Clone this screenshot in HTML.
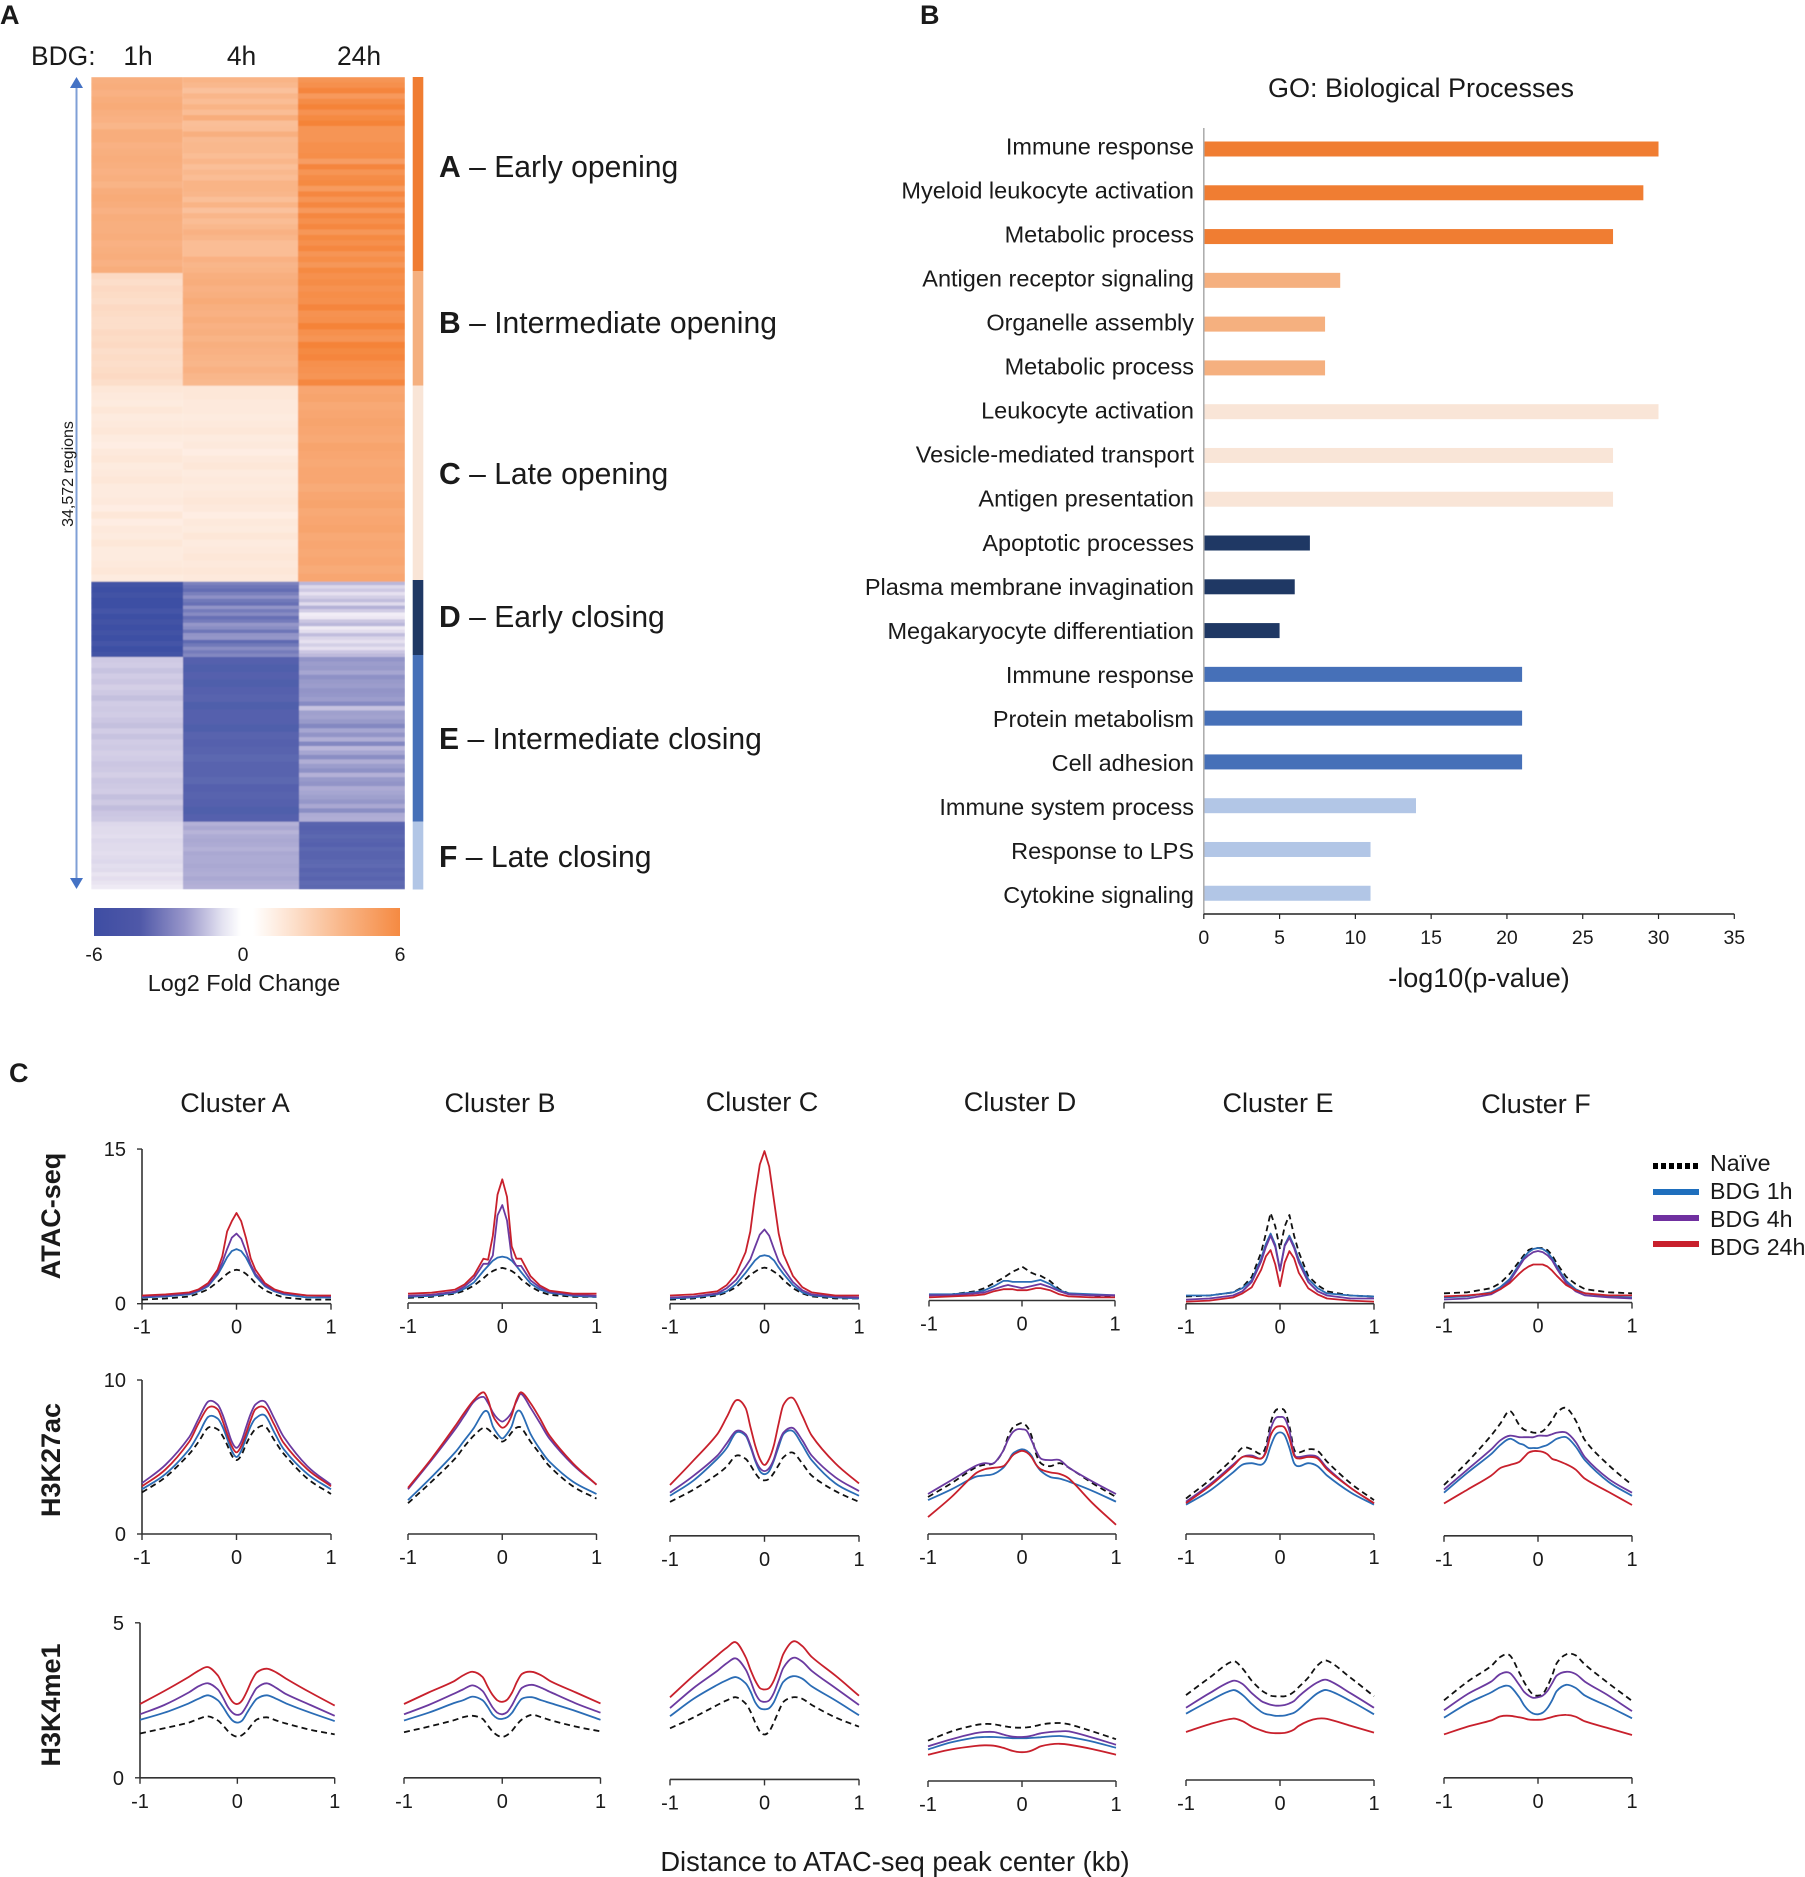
<!DOCTYPE html>
<html lang="en">
<head>
<meta charset="utf-8">
<title>ATAC-seq clusters figure</title>
<style>
html,body{margin:0;padding:0;background:#fff;width:1805px;height:1877px;overflow:hidden}
svg{display:block}
text{font-family:"Liberation Sans",Arial,sans-serif;fill:#1a1a1a}
</style>
</head>
<body>
<svg id="fig" xmlns="http://www.w3.org/2000/svg" width="1805" height="1877" viewBox="0 0 1805 1877">
<defs>
<linearGradient id="cbGrad" x1="0" x2="1" y1="0" y2="0">
<stop offset="0" stop-color="#3e4da3"/><stop offset=".15" stop-color="#4f58a8"/><stop offset=".3" stop-color="#9a98cb"/><stop offset=".42" stop-color="#e4e3f1"/><stop offset=".48" stop-color="#fff"/><stop offset=".52" stop-color="#fff"/><stop offset=".65" stop-color="#fde0cc"/><stop offset=".8" stop-color="#f9b98d"/><stop offset="1" stop-color="#f58a42"/>
</linearGradient>
<filter id="soft" x="0" y="0" width="100%" height="100%"><feGaussianBlur stdDeviation="0.6"/></filter>
</defs>
<rect width="1805" height="1877" fill="#fff"/>

<text x="0" y="24" font-size="27" font-weight="bold">A</text>
<text x="920" y="24" font-size="27" font-weight="bold">B</text>
<text x="9" y="1082" font-size="27" font-weight="bold">C</text>

<text x="31" y="65" font-size="26.4">BDG:</text>
<text x="138" y="65" font-size="26.4" text-anchor="middle">1h</text>
<text x="241.5" y="65" font-size="26.4" text-anchor="middle">4h</text>
<text x="359" y="65" font-size="26.4" text-anchor="middle">24h</text>

<g id="heatmap" filter="url(#soft)"></g>
<g id="sidebar"></g>

<line x1="76.5" y1="84" x2="76.5" y2="883" stroke="#7f9fd6" stroke-width="2"/>
<polygon points="76.5,77 70,88 83,88" fill="#4472c4"/>
<polygon points="76.5,889 70,878 83,878" fill="#4472c4"/>
<text transform="translate(73 474) rotate(-90)" font-size="16" text-anchor="middle">34,572 regions</text>

<g font-size="30.1">
<text x="439" y="177"><tspan font-weight="bold">A</tspan> – Early opening</text>
<text x="439" y="333"><tspan font-weight="bold">B</tspan> – Intermediate opening</text>
<text x="439" y="484"><tspan font-weight="bold">C</tspan> – Late opening</text>
<text x="439" y="627"><tspan font-weight="bold">D</tspan> – Early closing</text>
<text x="439" y="749"><tspan font-weight="bold">E</tspan> – Intermediate closing</text>
<text x="439" y="867"><tspan font-weight="bold">F</tspan> – Late closing</text>
</g>

<rect x="94" y="908" width="306" height="28" fill="url(#cbGrad)"/>
<text x="94" y="961" font-size="19.5" text-anchor="middle">-6</text>
<text x="243" y="961" font-size="19.5" text-anchor="middle">0</text>
<text x="400" y="961" font-size="19.5" text-anchor="middle">6</text>
<text x="244" y="991" font-size="23.4" text-anchor="middle">Log2 Fold Change</text>

<text x="1421" y="97" font-size="27" text-anchor="middle">GO: Biological Processes</text>
<g id="bars"></g>
<text x="1479" y="987" font-size="27" text-anchor="middle">-log10(p-value)</text>

<g font-size="27" text-anchor="middle">
<text x="235" y="1112">Cluster A</text>
<text x="500" y="1112">Cluster B</text>
<text x="762" y="1111">Cluster C</text>
<text x="1020" y="1111">Cluster D</text>
<text x="1278" y="1112">Cluster E</text>
<text x="1536" y="1113">Cluster F</text>
</g>
<text transform="translate(60 1216) rotate(-90)" font-size="27" font-weight="bold" text-anchor="middle">ATAC-seq</text>
<text transform="translate(60 1460) rotate(-90)" font-size="27" font-weight="bold" text-anchor="middle">H3K27ac</text>
<text transform="translate(60 1705) rotate(-90)" font-size="27" font-weight="bold" text-anchor="middle">H3K4me1</text>

<g id="profiles"></g>

<g font-size="23.2">
<line x1="1653" y1="1166" x2="1699" y2="1166" stroke="#000" stroke-width="6" stroke-dasharray="5 3"/>
<text x="1710" y="1171">Naïve</text>
<line x1="1653" y1="1192" x2="1699" y2="1192" stroke="#1f6fbd" stroke-width="6"/>
<text x="1710" y="1199">BDG 1h</text>
<line x1="1653" y1="1218" x2="1699" y2="1218" stroke="#7030a0" stroke-width="6"/>
<text x="1710" y="1227">BDG 4h</text>
<line x1="1653" y1="1244" x2="1699" y2="1244" stroke="#c8202c" stroke-width="6"/>
<text x="1710" y="1255">BDG 24h</text>
</g>

<text x="895" y="1871" font-size="27.3" text-anchor="middle">Distance to ATAC-seq peak center (kb)</text>
</svg>

<script>
/* ---------- Heatmap data: log2 fold change per stripe ---------- */
const hmA_1h=[3.6,3.7,3.5,3.7,3.8,3.6,3.5,3.3,3.7,3.7,3.5,3.6,3.7,3.6,3.5,3.6,3.4,3.7,3.8,3.7,3.5,3.7,3.6,3.6,3.7,3.5,3.6,3.7,3.5,3.7];
const hmA_4h=[3.4,3.2,2.8,3.3,3.0,3.4,3.0,3.7,2.9,3.0,3.6,3.1,3.2,3.2,3.0,3.3,2.9,3.2,3.0,3.4,3.4,3.3,2.9,3.4,2.8,3.3,3.0,3.2,3.5,3.3,3.0,3.0,3.0,3.5,3.3,3.4];
const hmA_24h=[4.8,5.0,5.5,4.6,5.2,5.6,4.9,5.3,5.6,4.8,4.8,4.8,5.0,5.0,5.1,4.4,5.5,4.8,5.2,5.3,4.5,5.4,4.8,5.4,4.6,5.4,5.0,5.4,4.7,5.3,5.0,5.4,4.8,5.1,4.7,5.3];
const hmB_1h=[1.7,1.5,1.7,1.6,1.5,1.7,1.6,1.5,1.5,1.7,1.6,1.7,1.5,1.6,1.5,1.6,1.7,1.5];
const hmB_4h=[3.6,3.7,3.5,3.6,3.8,3.6,3.5,3.7,3.5,3.6,3.4,3.6,3.5,3.4,3.3,3.5,3.3,3.2];
const hmB_24h=[5.0,5.2,4.9,5.1,5.0,5.5,4.9,5.0,5.6,5.0,4.8,5.6,5.3,5.5,5.0,4.9,4.8,5.4];
const hmC_1h=[1.1,1.0,.9,1.1,.9,1.0,1.1,.9,.8,1.0,1.1,.9,1.0,1.1,.9,.9,1.0,.8,1.1,.8,1.0,.9,1.1,.9,.9,1.0,1.1,.9];
const hmC_4h=[1.1,1.1,1.0,1.0,.9,1.0,1.1,.9,1.0,.8,1.0,1.1,.9,1.0,.9,1.0,1.1,1.0,.8,1.0,.9,1.1,.9,1.0,1.1,1.0,1.1,1.0];
const hmC_24h=[4.0,4.1,3.9,4.0,4.1,4.0,3.9,4.1,4.0,3.9,4.0,4.0,3.8,4.0,4.1,3.9,4.0,4.1,3.9,4.0,3.9,4.0,3.8,4.0];
const hmD_1h=[5.8,5.9,5.8,5.9,5.9,5.7,5.9,5.8,5.9,5.8,5.9,5.7,5.9,5.8];
const hmD_4h=[4.2,4.6,4.9,4.3,3.7,4.5,4.8,3.6,4.4,3.9,4.8,4.4,3.5,3.8,4.6,3.6,3.5,5.0,4.5,3.8,4.4,4.0];
const hmD_24h=[2.4,1.3,1.8,1.0,1.6,2.2,1.2,2.6,1.7,.6,.8,1.9,2.4,.7,1.1,2.2,1.4,1.0,1.6,1.0,1.9,2.3];
const hmE_1h=[1.8,1.7,2.0,1.7,1.9,1.6,1.8,2.1,1.7,1.8,1.7,1.9,2.1,1.7,2.0,1.7,1.8,1.6,1.7,1.9,1.8,1.6,1.9,1.8,1.7,2.1,1.8,2.2,1.9,1.8];
const hmE_4h=[5.3,5.4,5.3,5.4,5.3,5.2,5.4,5.3,5.3,5.4,5.2,5.3,5.2,5.1,5.2,5.2,5.1,5.3,5.2,5.3,5.4,5.3];
const hmE_24h=[3.6,3.3,3.4,3.0,3.7,3.4,3.3,3.6,3.5,3.3,3.9,2.0,3.2,3.1,3.4,4.0,3.0,3.6,2.7,4.0,2.4,3.0,3.8,2.7,3.3,3.7,2.6,3.4,3.6,2.8,3.0,3.2,3.5,2.9,3.8,2.8,2.7];
const hmF_1h=[1.3,1.2,1.2,1.1,1.3,1.2,1.2,1.1,1.2,1.3,1.1,1.2,.9,1.1,.9,.7];
const hmF_4h=[2.6,2.9,2.5,2.8,2.9,2.8,2.6,2.9,2.8,2.8,2.9,2.8,2.7,2.9,2.7,2.6];
const hmF_24h=[5.2,5.3,5.2,5.1,5.2,5.3,5.1,5.2,5.2,5.1,5.0,5.2,5.1,5.2,5.0,5.1];
const hmSigns=[1,1,1,-1,-1,-1];
const hmClusterRows=[[hmA_1h,hmA_4h,hmA_24h],[hmB_1h,hmB_4h,hmB_24h],[hmC_1h,hmC_4h,hmC_24h],[hmD_1h,hmD_4h,hmD_24h],[hmE_1h,hmE_4h,hmE_24h],[hmF_1h,hmF_4h,hmF_24h]];

/* ---------- Bar chart data ---------- */
const goTerms=["Immune response","Myeloid leukocyte activation","Metabolic process","Antigen receptor signaling","Organelle assembly","Metabolic process","Leukocyte activation","Vesicle-mediated transport","Antigen presentation","Apoptotic processes","Plasma membrane invagination","Megakaryocyte differentiation","Immune response","Protein metabolism","Cell adhesion","Immune system process","Response to LPS","Cytokine signaling"];
const goValues=[30,29,27,9,8,8,30,27,27,7,6,5,21,21,21,14,11,11];
const goClusters=["A","A","A","B","B","B","C","C","C","D","D","D","E","E","E","F","F","F"];
const goTicks=[0,5,10,15,20,25,30,35];

/* ---------- Profile data: sampled at these distances (kb) ---------- */
const distKb=[-1,-.75,-.5,-.4,-.3,-.2,-.15,-.1,-.05,0,.05,.1,.15,.2,.3,.4,.5,.75,1];
const xTicks=[-1,0,1];

const atacA_naive=[.4,.5,.7,1.0,1.4,2.1,2.5,2.9,3.2,3.3,3.2,2.9,2.5,2.0,1.3,.9,.6,.4,.4];
const atacA_1h=[.6,.7,.9,1.2,1.7,2.8,3.6,4.5,5.1,5.3,5.1,4.5,3.6,2.7,1.7,1.2,.9,.6,.6];
const atacA_4h=[.7,.8,1.0,1.3,1.8,3.0,4.0,5.3,6.4,6.8,6.3,5.1,3.8,2.9,1.8,1.3,1.0,.8,.7];
const atacA_24h=[.8,.9,1.1,1.4,2.0,3.3,4.6,7.0,8.0,8.8,8.0,6.4,4.4,3.3,2.0,1.4,1.1,.8,.8];
const atacB_naive=[.5,.6,.9,1.2,1.7,2.4,2.8,3.1,3.3,3.4,3.3,3.1,2.8,2.3,1.6,1.1,.8,.6,.6];
const atacB_1h=[.6,.7,1.0,1.4,2.0,3.1,3.6,4.1,4.4,4.5,4.4,4.1,3.6,3.0,1.9,1.3,1.0,.7,.6];
const atacB_4h=[.7,.8,1.1,1.6,2.4,3.8,3.8,4.6,8.5,9.5,8.0,4.4,3.6,3.6,2.2,1.5,1.1,.8,.7];
const atacB_24h=[.9,1.0,1.3,1.8,2.7,4.3,4.2,6.5,10.5,12,10.3,5.5,4.3,4.3,2.6,1.7,1.2,.9,.9];
const atacC_naive=[.4,.5,.8,1.1,1.6,2.4,2.8,3.1,3.4,3.5,3.4,3.1,2.8,2.3,1.5,1.0,.7,.5,.5];
const atacC_1h=[.5,.6,.9,1.2,1.9,3.0,3.6,4.2,4.6,4.7,4.6,4.2,3.5,2.9,1.8,1.1,.8,.6,.5];
const atacC_4h=[.6,.7,1.0,1.5,2.3,3.6,4.3,5.5,6.7,7.2,6.6,5.3,4.1,3.4,2.1,1.3,.9,.7,.6];
const atacC_24h=[.8,.9,1.2,1.8,2.9,5.0,7.0,10.5,13.5,14.8,13.3,10,6.8,4.8,2.7,1.6,1.1,.8,.8];
const atacD_naive=[.5,.6,.9,1.2,1.7,2.2,2.5,2.8,3.0,3.3,3.0,2.7,2.5,2.4,1.9,1.1,.7,.5,.4];
const atacD_1h=[.6,.6,.8,1.0,1.4,1.9,1.9,1.8,1.8,1.8,1.8,1.8,1.9,2.0,1.6,1.0,.7,.6,.5];
const atacD_4h=[.5,.5,.7,.8,1.1,1.4,1.5,1.4,1.3,1.2,1.3,1.4,1.5,1.6,1.3,.9,.6,.5,.5];
const atacD_24h=[.3,.4,.5,.6,.9,1.1,1.1,1.1,1.0,1.0,1.0,1.1,1.2,1.2,1.0,.6,.4,.3,.3];
const atacE_naive=[.7,.8,1.1,1.6,2.6,5,6.8,8.8,7.5,5.3,7.5,8.6,6.6,5,2.7,1.8,1.2,.8,.7];
const atacE_1h=[.8,.8,1.1,1.5,2.3,4.4,5.8,6.8,5.7,3.3,5.7,6.6,5.6,4.3,2.4,1.5,1.0,.8,.7];
const atacE_4h=[.4,.5,.8,1.2,2.1,4.1,5.5,6.6,5.5,3.2,5.6,6.4,5.4,4,2.1,1.2,.8,.5,.5];
const atacE_24h=[.2,.3,.6,1,1.6,3.3,4.6,5.2,3.8,1.7,4.0,5.1,4.4,3.0,1.5,.9,.5,.3,.2];
const atacF_naive=[.9,1.0,1.4,1.9,2.8,4.0,4.6,5.1,5.3,5.3,5.3,5.1,4.6,3.8,2.5,1.8,1.3,1.0,.9];
const atacF_1h=[.5,.6,1,1.5,2.3,3.7,4.4,4.9,5.2,5.3,5.2,4.9,4.3,3.5,2.1,1.3,.9,.6,.5];
const atacF_4h=[.3,.4,.8,1.3,2.1,3.5,4.2,4.6,4.9,5.0,4.9,4.6,4.1,3.3,1.9,1.1,.7,.5,.4];
const atacF_24h=[.6,.7,.9,1.3,1.9,2.8,3.2,3.5,3.7,3.7,3.7,3.5,3.1,2.6,1.7,1.2,.9,.7,.7];

const k27A_naive=[2.7,3.7,5.2,6.0,6.9,6.8,6.4,5.8,5.1,4.8,5.1,5.8,6.4,6.8,7.0,6.1,5.2,3.6,2.6];
const k27A_1h=[2.9,3.9,5.5,6.5,7.6,7.5,7.0,6.2,5.4,5.0,5.4,6.2,7.0,7.5,7.7,6.6,5.5,3.9,2.9];
const k27A_4h=[3.3,4.5,6.3,7.5,8.6,8.4,7.8,6.9,6.0,5.6,6.0,6.9,7.8,8.4,8.6,7.5,6.3,4.4,3.2];
const k27A_24h=[3.1,4.2,6.0,7.2,8.2,8.1,7.4,6.5,5.7,5.3,5.7,6.5,7.4,8.1,8.2,7.1,5.9,4.2,3.1];
const k27B_naive=[2.0,3.4,4.9,5.7,6.4,6.9,6.8,6.5,6.2,6.0,6.2,6.6,6.9,6.9,6.0,5.2,4.4,3.1,2.3];
const k27B_1h=[2.2,3.7,5.3,6.1,6.9,7.9,7.9,7.0,6.5,6.2,6.5,7.0,7.9,7.9,6.5,5.5,4.7,3.4,2.6];
const k27B_4h=[2.9,4.8,6.8,7.7,8.6,8.9,8.5,7.9,7.5,7.3,7.5,7.9,8.6,9.1,8.2,7.2,6.2,4.5,3.2];
const k27B_24h=[3.0,4.9,7.0,7.9,8.7,9.2,8.7,7.7,7.2,6.9,7.1,7.7,8.7,9.2,8.5,7.5,6.4,4.6,3.2];
const k27C_naive=[2.2,3.0,4.0,4.5,5.2,5.0,4.6,4.1,3.7,3.6,3.7,4.1,4.6,5.1,5.4,4.7,3.9,2.9,2.2];
const k27C_1h=[2.6,3.6,5.0,5.7,6.7,6.5,5.8,4.9,4.2,4.0,4.2,4.9,5.8,6.6,6.8,5.9,4.9,3.4,2.6];
const k27C_4h=[2.8,3.9,5.2,6.0,6.8,6.6,5.9,5.0,4.4,4.2,4.4,5.0,6.0,6.7,7.0,6.2,5.2,3.8,2.9];
const k27C_24h=[3.3,4.9,6.6,7.7,8.8,8.3,7.1,5.9,5.0,4.6,5.0,5.9,7.3,8.5,8.95,7.8,6.5,4.7,3.4];
const k27D_naive=[2.4,3.3,4.3,4.5,4.6,5.4,6.3,6.9,7.1,7.2,7.0,6.4,5.2,4.6,4.4,4.6,4.3,3.3,2.4];
const k27D_1h=[2.2,2.9,3.7,3.8,3.9,4.3,4.7,5.2,5.4,5.5,5.4,5.1,4.5,4.1,3.7,3.6,3.4,2.8,2.1];
const k27D_4h=[2.6,3.5,4.4,4.6,4.6,5.4,6.1,6.6,6.8,6.8,6.7,6.1,5.4,4.9,4.8,4.8,4.3,3.4,2.6];
const k27D_24h=[1.1,2.4,3.9,4.2,4.3,4.4,4.7,5.1,5.3,5.4,5.3,5.0,4.5,4.2,4.0,3.9,3.6,2.0,.6];
const k27E_naive=[2.3,3.5,4.9,5.6,5.5,5.2,5.7,7.2,8.0,8.1,8.0,7,5.5,5.3,5.5,5.4,4.7,3.3,2.2];
const k27E_1h=[1.9,2.8,4.0,4.5,4.6,4.5,4.8,5.7,6.4,6.6,6.4,5.6,4.6,4.4,4.6,4.4,3.8,2.7,1.9];
const k27E_4h=[2.1,3.2,4.5,5.0,5.1,4.9,5.4,6.8,7.5,7.6,7.5,6.7,5.2,5.0,5.1,5.0,4.3,3.0,2.0];
const k27E_24h=[2.0,3.1,4.4,5.0,5.0,4.9,5.3,6.4,6.9,7.0,6.9,6.2,5.1,4.9,5.0,4.9,4.2,3.0,2.0];
const k27F_naive=[3.3,4.8,6.5,7.3,8.1,7.2,6.9,6.8,6.7,6.7,6.8,7.1,7.5,8.0,8.3,7.5,6.2,4.6,3.3];
const k27F_1h=[2.8,4.1,5.3,5.9,6.3,6.0,5.9,5.7,5.7,5.7,5.8,5.9,6.1,6.3,6.4,5.8,4.9,3.5,2.6];
const k27F_4h=[3.0,4.3,5.6,6.2,6.5,6.4,6.4,6.4,6.4,6.5,6.5,6.5,6.6,6.7,6.7,6.1,5.1,3.7,2.8];
const k27F_24h=[2.1,3.0,3.9,4.4,4.6,4.8,5.1,5.4,5.5,5.5,5.45,5.3,5.0,4.9,4.65,4.3,3.7,2.85,2.0];

const k4A_naive=[1.43,1.6,1.78,1.9,1.98,1.85,1.7,1.52,1.38,1.33,1.38,1.52,1.72,1.88,1.95,1.85,1.75,1.55,1.40];
const k4A_1h=[1.87,2.1,2.4,2.55,2.66,2.5,2.3,2.05,1.85,1.78,1.85,2.1,2.35,2.55,2.66,2.55,2.4,2.1,1.83];
const k4A_4h=[2.05,2.35,2.75,2.95,3.05,2.85,2.6,2.3,2.1,2.03,2.1,2.35,2.65,2.9,3.05,2.9,2.7,2.35,2.0];
const k4A_24h=[2.38,2.8,3.25,3.45,3.57,3.3,3.0,2.7,2.45,2.38,2.5,2.8,3.15,3.4,3.52,3.4,3.2,2.75,2.33];
const k4B_naive=[1.47,1.65,1.85,1.95,2.0,1.9,1.7,1.5,1.37,1.32,1.38,1.52,1.72,1.88,2.03,1.95,1.85,1.65,1.5];
const k4B_1h=[1.85,2.1,2.4,2.5,2.62,2.5,2.3,2.05,1.92,1.9,1.95,2.1,2.35,2.55,2.6,2.5,2.4,2.15,1.87];
const k4B_4h=[2.05,2.35,2.7,2.85,2.98,2.8,2.55,2.28,2.1,2.05,2.12,2.35,2.65,2.9,3.0,2.9,2.75,2.4,2.1];
const k4B_24h=[2.38,2.75,3.1,3.3,3.42,3.25,2.95,2.68,2.5,2.45,2.52,2.75,3.1,3.35,3.42,3.3,3.1,2.75,2.4];
const k4C_naive=[1.65,2.0,2.4,2.55,2.65,2.45,2.2,1.85,1.55,1.45,1.55,1.85,2.2,2.5,2.65,2.6,2.4,2.0,1.7];
const k4C_1h=[2.04,2.6,3.05,3.2,3.3,3.1,2.85,2.5,2.3,2.26,2.3,2.5,2.85,3.15,3.33,3.25,3.0,2.55,2.07];
const k4C_4h=[2.3,2.95,3.5,3.75,3.9,3.55,3.2,2.8,2.55,2.5,2.55,2.8,3.2,3.6,3.92,3.8,3.5,2.95,2.4];
const k4C_24h=[2.65,3.35,4.0,4.25,4.42,3.95,3.55,3.2,2.95,2.9,2.95,3.2,3.6,4.05,4.45,4.3,3.95,3.35,2.7];
const k4D_naive=[1.3,1.6,1.8,1.84,1.83,1.77,1.75,1.73,1.72,1.72,1.73,1.75,1.78,1.82,1.86,1.87,1.83,1.6,1.35];
const k4D_1h=[1.02,1.25,1.4,1.42,1.42,1.4,1.39,1.38,1.38,1.38,1.38,1.39,1.4,1.41,1.44,1.45,1.42,1.27,1.07];
const k4D_4h=[1.12,1.35,1.54,1.58,1.58,1.5,1.46,1.43,1.42,1.42,1.43,1.46,1.5,1.54,1.58,1.6,1.6,1.4,1.17];
const k4D_24h=[.85,1.02,1.13,1.15,1.14,1.07,1.02,.97,.94,.93,.94,.98,1.05,1.12,1.18,1.2,1.17,1.03,.85];
const k4E_naive=[2.74,3.3,3.83,3.6,3.2,2.9,2.8,2.72,2.7,2.7,2.7,2.75,2.85,3.0,3.3,3.7,3.85,3.3,2.7];
const k4E_1h=[2.14,2.55,2.9,2.75,2.45,2.2,2.13,2.1,2.07,2.07,2.08,2.12,2.17,2.28,2.55,2.8,2.9,2.55,2.12];
const k4E_4h=[2.33,2.8,3.2,3.1,2.8,2.55,2.48,2.43,2.4,2.4,2.42,2.47,2.55,2.7,2.95,3.15,3.23,2.8,2.33];
const k4E_24h=[1.55,1.8,1.98,1.9,1.72,1.6,1.55,1.52,1.51,1.51,1.52,1.56,1.63,1.75,1.9,1.98,1.97,1.75,1.53];
const k4F_naive=[2.5,3.1,3.6,3.9,3.95,3.4,3.1,2.85,2.68,2.65,2.7,2.95,3.3,3.7,3.98,3.95,3.65,3.05,2.48];
const k4F_1h=[1.94,2.4,2.75,2.92,2.95,2.6,2.35,2.17,2.07,2.05,2.1,2.25,2.5,2.8,3.0,2.9,2.65,2.3,1.92];
const k4F_4h=[2.18,2.7,3.1,3.35,3.38,3.0,2.78,2.65,2.58,2.6,2.65,2.8,3.05,3.3,3.42,3.35,3.1,2.65,2.15];
const k4F_24h=[1.4,1.65,1.85,1.98,2.0,1.95,1.92,1.88,1.87,1.87,1.88,1.92,1.96,2.0,2.03,1.97,1.82,1.6,1.38];

const atacSeries=[[atacA_naive,atacA_1h,atacA_4h,atacA_24h],[atacB_naive,atacB_1h,atacB_4h,atacB_24h],[atacC_naive,atacC_1h,atacC_4h,atacC_24h],[atacD_naive,atacD_1h,atacD_4h,atacD_24h],[atacE_naive,atacE_1h,atacE_4h,atacE_24h],[atacF_naive,atacF_1h,atacF_4h,atacF_24h]];
const k27Series=[[k27A_naive,k27A_1h,k27A_4h,k27A_24h],[k27B_naive,k27B_1h,k27B_4h,k27B_24h],[k27C_naive,k27C_1h,k27C_4h,k27C_24h],[k27D_naive,k27D_1h,k27D_4h,k27D_24h],[k27E_naive,k27E_1h,k27E_4h,k27E_24h],[k27F_naive,k27F_1h,k27F_4h,k27F_24h]];
const k4Series=[[k4A_naive,k4A_1h,k4A_4h,k4A_24h],[k4B_naive,k4B_1h,k4B_4h,k4B_24h],[k4C_naive,k4C_1h,k4C_4h,k4C_24h],[k4D_naive,k4D_1h,k4D_4h,k4D_24h],[k4E_naive,k4E_1h,k4E_4h,k4E_24h],[k4F_naive,k4F_1h,k4F_4h,k4F_24h]];
const trackNames=["atac","h3k27ac","h3k4me1"];
const trackMax=[15,10,5];
const clusterIds=["a","b","c","d","e","f"];
const seriesNames=["naive","1h","4h","24h"];

/* ---------- Layout and style (not data) ---------- */
const NS="http://www.w3.org/2000/svg";
const hmColEdges=[[91.3,182.7,298,405],[91.3,182.7,298,405],[91.3,182.7,298,405],[91.3,183,299,405],[91.3,183,299,405],[91.3,183,299,405]];
const hmRowEdges=[77,273,385.7,581.7,657,821.7,889];
const sideEdges=[77,271,385.7,580,655,821.5,889.5];
const clusterColors={A:"#f07d32",B:"#f5b07f",C:"#f9e5d7",D:"#1f3864",E:"#4670b8",F:"#b2c6e6"};
const seriesStyle=["#111","#2a6cb5","#6b3aa0","#c8202c"];
const trackPxPerUnit=[10.31,15.4,31];
const trackX0=[[142,408,670,929,1186,1444],[142,408,670,928,1186,1444],[140,404,670,928,1186,1444]];
const trackX1=[[331,596.5,859,1115,1374,1632],[331,596.5,859,1116,1374,1632],[334.7,600.5,859,1116,1374,1632]];
const trackY0=[[1303.7,1303,1303.7,1300.5,1303.7,1302.6],[1534,1534,1535.8,1534,1534,1535.8],[1777.8,1777.8,1779.4,1781,1780,1777.8]];

function el(parent,tag,attrs,text){
  const e=document.createElementNS(NS,tag);
  for(const k in attrs) e.setAttribute(k,attrs[k]);
  if(text!==undefined) e.textContent=text;
  parent.appendChild(e);
  return e;
}
function lerp(a,b,t){return Math.round(a+(b-a)*t);}
function heatColor(v){
  const t=Math.min(1,Math.abs(v)/6);
  if(v>=0){
    return "rgb("+lerp(255,244,t)+","+lerp(255,122,t)+","+lerp(255,42,t)+")";
  }
  return "rgb("+lerp(255,58,Math.pow(t,1.15))+","+lerp(255,76,t)+","+lerp(255,162,t)+")";
}

/* Heatmap */
const hmG=document.getElementById("heatmap");
hmClusterRows.forEach(function(cols,ci){
  const y0=hmRowEdges[ci],y1=hmRowEdges[ci+1];
  cols.forEach(function(rows,col){
    const x0=hmColEdges[ci][col],x1=hmColEdges[ci][col+1];
    const h=(y1-y0)/rows.length;
    rows.forEach(function(val,r){
      const rc=el(hmG,"rect",{x:x0,y:y0+r*h,width:x1-x0,height:h+0.4,fill:heatColor(hmSigns[ci]*val)});
      
      
    });
  });
});

/* Sidebar */
const sideG=document.getElementById("sidebar");
Object.keys(clusterColors).forEach(function(k,i){
  const s=el(sideG,"rect",{x:412.7,y:sideEdges[i],width:10.6,height:sideEdges[i+1]-sideEdges[i],fill:clusterColors[k]});
  
  
});

/* Bar chart */
const barG=document.getElementById("bars");
const barX0=1203.8,barPx=15.157;
function barScaleX(v){return barX0+v*barPx;}
function barScaleY(i){return 149+i*43.78;}
goTerms.forEach(function(term,i){
  const b=el(barG,"rect",{x:barScaleX(0),y:barScaleY(i)-7.5,width:barScaleX(goValues[i])-barScaleX(0),height:15,fill:clusterColors[goClusters[i]]});
  
  
  const t=el(barG,"text",{x:1194,y:154.3+i*44.05,"font-size":23.5,"text-anchor":"end"},term);
  
  
});
const vAxis=el(barG,"line",{x1:barX0,y1:128,x2:barX0,y2:914,stroke:"#aaa","stroke-width":1.5});


const hAxis=el(barG,"line",{x1:barX0,y1:914,x2:barScaleX(35),y2:914,stroke:"#222","stroke-width":1.5});


goTicks.forEach(function(v){
  const tk=el(barG,"line",{x1:barScaleX(v),y1:914,x2:barScaleX(v),y2:919,stroke:"#222","stroke-width":1.2});
  
  
  const lb=el(barG,"text",{x:barScaleX(v),y:944,"font-size":19.5,"text-anchor":"middle"},String(v));
  
  
});

/* Profile panels */
function smoothPath(p){
  let d="M"+p[0][0].toFixed(1)+" "+p[0][1].toFixed(1);
  for(let i=0;i<p.length-1;i++){
    const a=p[Math.max(0,i-1)],b=p[i],c=p[i+1],e=p[Math.min(p.length-1,i+2)];
    const dx=(c[0]-b[0])/3;
    const m1=(c[1]-a[1])/((c[0]-a[0])||1);
    const m2=(e[1]-b[1])/((e[0]-b[0])||1);
    d+="C"+(b[0]+dx).toFixed(1)+" "+(b[1]+m1*dx).toFixed(1)+" "+(c[0]-dx).toFixed(1)+" "+(c[1]-m2*dx).toFixed(1)+" "+c[0].toFixed(1)+" "+c[1].toFixed(1);
  }
  return d;
}
function linePath(p){
  return p.map(function(q,i){return (i?"L":"M")+q[0].toFixed(1)+" "+q[1].toFixed(1);}).join("");
}
const profG=document.getElementById("profiles");
[atacSeries,k27Series,k4Series].forEach(function(track,tr){
  track.forEach(function(panel,pi){
    const g=el(profG,"g",{});
    
    
    const x0=trackX0[tr][pi],x1=trackX1[tr][pi],y0=trackY0[tr][pi],k=trackPxPerUnit[tr];
    const sx=function(v){return x0+(v+1)/2*(x1-x0);};
    const sy=function(v){return y0-v*k;};
    /* x axis */
    const ax=el(g,"line",{x1:x0,y1:y0,x2:x1,y2:y0,stroke:"#333","stroke-width":1.6});
    
    
    xTicks.forEach(function(t){
      const tk=el(g,"line",{x1:sx(t),y1:y0,x2:sx(t),y2:y0+6,stroke:"#333","stroke-width":1.4});
      
      
      const lb=el(g,"text",{x:sx(t),y:y0+30,"font-size":20,"text-anchor":"middle"},String(t));
      
      
    });
    if(pi===0){
      const ay=el(g,"line",{x1:x0,y1:sy(0),x2:x0,y2:sy(trackMax[tr]),stroke:"#333","stroke-width":1.6});
      
      
      [0,trackMax[tr]].forEach(function(v){
        const tk=el(g,"line",{x1:x0-5,y1:sy(v),x2:x0,y2:sy(v),stroke:"#333","stroke-width":1.4});
        
        
        const lb=el(g,"text",{x:x0-16,y:sy(v)+7,"font-size":20,"text-anchor":"end"},String(v));
        
        
      });
    }
    panel.forEach(function(values,si){
      const pts=values.map(function(v,i){return [sx(distKb[i]),sy(v)];});
      const attrs={d:tr===0?linePath(pts):smoothPath(pts),fill:"none",stroke:seriesStyle[si],"stroke-width":1.8,"stroke-linejoin":"round"};
      if(si===0) attrs["stroke-dasharray"]="6 4";
      const ln=el(g,"path",attrs);
      
      
    });
  });
});
</script>
</body>
</html>
